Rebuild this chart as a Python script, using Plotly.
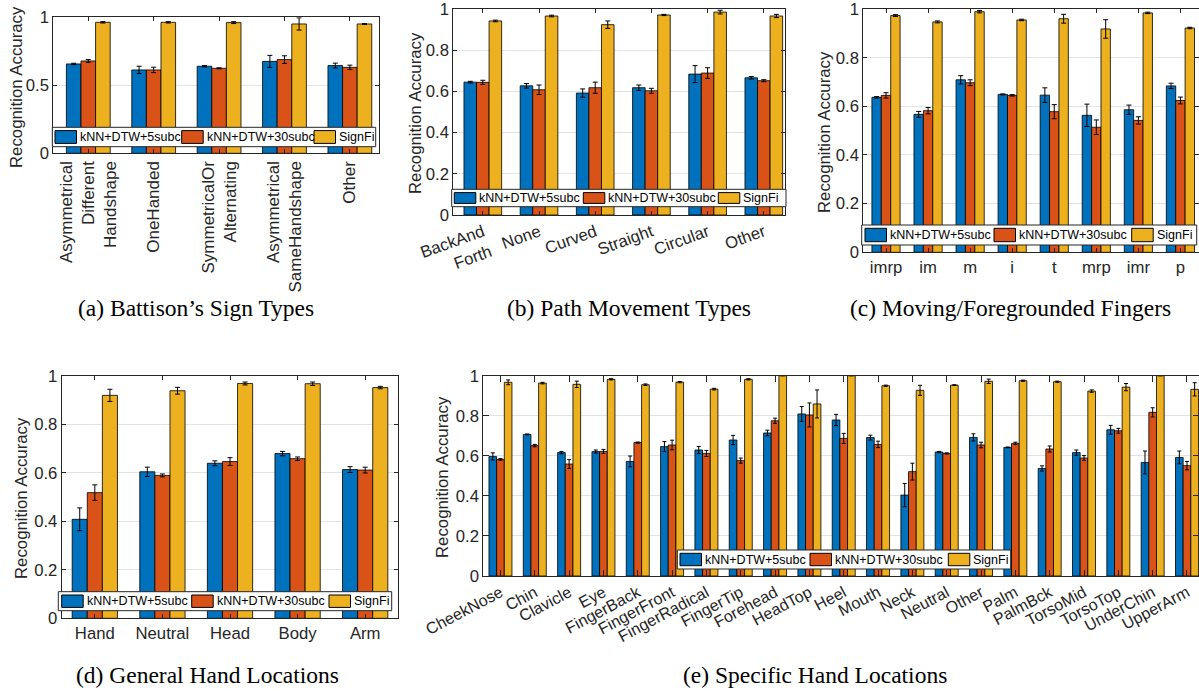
import plotly.graph_objects as go

W, H = 1199, 691

SERIES = ["kNN+DTW+5subc", "kNN+DTW+30subc", "SignFi"]
COLORS = ["#0072BD", "#D95319", "#EDB120"]

# (a) Battison's sign types
a_cats = ["AsymDiff", "OneHanded", "SymAlt", "AsymSame", "Other"]
a_ticks = ["Asymmetrical<br>Different<br>Handshape", "OneHanded",
           "SymmetricalOr<br>Alternating", "Asymmetrical<br>SameHandshape", "Other"]
a_knn5 = [0.657, 0.613, 0.640, 0.676, 0.645]
a_knn5_err = [0.005, 0.027, 0.005, 0.044, 0.018]
a_knn30 = [0.679, 0.613, 0.625, 0.689, 0.632]
a_knn30_err = [0.010, 0.020, 0.004, 0.028, 0.016]
a_signfi = [0.963, 0.963, 0.961, 0.951, 0.951]
a_signfi_err = [0.005, 0.005, 0.007, 0.045, 0.003]

# (b) path movement types
b_cats = ["BackAndForth", "None", "Curved", "Straight", "Circular", "Other"]
b_ticks = ["BackAnd<br>Forth", "None", "Curved", "Straight", "Circular", "Other"]
b_knn5 = [0.645, 0.627, 0.592, 0.618, 0.684, 0.666]
b_knn5_err = [0.004, 0.011, 0.020, 0.013, 0.041, 0.006]
b_knn30 = [0.644, 0.608, 0.618, 0.603, 0.689, 0.652]
b_knn30_err = [0.010, 0.023, 0.027, 0.012, 0.026, 0.005]
b_signfi = [0.942, 0.966, 0.924, 0.971, 0.985, 0.966]
b_signfi_err = [0.004, 0.004, 0.018, 0.003, 0.009, 0.008]

# (c) moving / foregrounded fingers
c_cats = ["imrp", "im", "m", "i", "t", "mrp", "imr", "p"]
c_knn5 = [0.637, 0.567, 0.709, 0.649, 0.646, 0.563, 0.586, 0.684]
c_knn5_err = [0.003, 0.012, 0.017, 0.002, 0.030, 0.046, 0.019, 0.011]
c_knn30 = [0.645, 0.582, 0.697, 0.645, 0.578, 0.514, 0.542, 0.624]
c_knn30_err = [0.011, 0.013, 0.012, 0.003, 0.029, 0.030, 0.015, 0.014]
c_signfi = [0.973, 0.947, 0.989, 0.955, 0.960, 0.918, 0.984, 0.922]
c_signfi_err = [0.004, 0.004, 0.005, 0.003, 0.018, 0.038, 0.003, 0.003]

# (d) general hand locations
d_cats = ["Hand", "Neutral", "Head", "Body", "Arm"]
d_knn5 = [0.408, 0.604, 0.639, 0.679, 0.613]
d_knn5_err = [0.047, 0.019, 0.010, 0.009, 0.012]
d_knn30 = [0.518, 0.589, 0.646, 0.658, 0.611]
d_knn30_err = [0.032, 0.006, 0.016, 0.007, 0.012]
d_signfi = [0.919, 0.938, 0.968, 0.967, 0.951]
d_signfi_err = [0.025, 0.014, 0.006, 0.007, 0.005]

# (e) specific hand locations
e_cats = ["CheekNose", "Chin", "Clavicle", "Eye", "FingerBack", "FingerFront",
          "FingerRadical", "FingerTip", "Forehead", "HeadTop", "Heel", "Mouth",
          "Neck", "Neutral", "Other", "Palm", "PalmBck", "TorsoMid", "TorsoTop",
          "UnderChin", "UpperArm"]
e_knn5 = [0.597, 0.707, 0.616, 0.621, 0.572, 0.646, 0.629, 0.679, 0.714, 0.809, 0.779,
          0.691, 0.404, 0.619, 0.692, 0.642, 0.537, 0.616, 0.730, 0.567, 0.592]
e_knn5_err = [0.018, 0.002, 0.006, 0.008, 0.027, 0.025, 0.018, 0.023, 0.014, 0.037, 0.028,
              0.012, 0.058, 0.003, 0.018, 0.002, 0.013, 0.013, 0.022, 0.057, 0.032]
e_knn30 = [0.582, 0.651, 0.559, 0.622, 0.666, 0.654, 0.612, 0.576, 0.775, 0.804, 0.687,
           0.657, 0.521, 0.612, 0.654, 0.662, 0.634, 0.589, 0.725, 0.817, 0.551]
e_knn30_err = [0.004, 0.006, 0.022, 0.010, 0.003, 0.024, 0.015, 0.013, 0.013, 0.060, 0.025,
               0.016, 0.042, 0.003, 0.014, 0.006, 0.015, 0.012, 0.012, 0.023, 0.021]
e_signfi = [0.967, 0.963, 0.957, 0.982, 0.955, 0.968, 0.933, 0.982, 1.000, 0.859, 1.000,
            0.950, 0.927, 0.953, 0.972, 0.975, 0.970, 0.923, 0.943, 1.000, 0.932]
e_signfi_err = [0.012, 0.004, 0.016, 0.003, 0.004, 0.003, 0.004, 0.003, 0.0, 0.070, 0.0,
                0.003, 0.025, 0.002, 0.011, 0.003, 0.003, 0.006, 0.018, 0.0, 0.033]

CAPTIONS = ["(a) Battison’s Sign Types", "(b) Path Movement Types",
            "(c) Moving/Foregrounded Fingers", "(d) General Hand Locations",
            "(e) Specific Hand Locations"]

TEXT = "#262626"
SANS = "Liberation Sans, Arial, Helvetica, sans-serif"
SERIF = "Liberation Serif, Times New Roman, serif"


def px_x(p):
    return p / W


def px_y(p):
    return 1 - p / H


# panel layout in pixel space: plot box, category range, tick setup, legend and label placement
panels = [
    dict(cats=a_cats, ticks=a_ticks, vals=[a_knn5, a_knn30, a_signfi],
         errs=[a_knn5_err, a_knn30_err, a_signfi_err],
         box=(53.3, 379.3, 17.3, 153.3), xr=[-0.535, 4.45], dtick=0.5, angle=-90,
         ticklen=4, capw=2.5, xfont=17,
         leg=(52.3, 375.7, 127.3, 146.7, [55.0, 181.7, 314.0]),
         ytitle=(17, 87), caption=(196, 308)),
    dict(cats=b_cats, ticks=b_ticks, vals=[b_knn5, b_knn30, b_signfi],
         errs=[b_knn5_err, b_knn30_err, b_signfi_err],
         box=(453.3, 785.0, 9.0, 215.0), xr=[-0.525, 5.377], dtick=0.2, angle=-20,
         ticklen=4, capw=2.5, xfont=16.7,
         leg=(451.7, 786.0, 189.3, 206.7, [454.3, 583.3, 718.3]),
         ytitle=(415, 113), caption=(629, 308)),
    dict(cats=c_cats, ticks=c_cats, vals=[c_knn5, c_knn30, c_signfi],
         errs=[c_knn5_err, c_knn30_err, c_signfi_err],
         box=(863.3, 1198.5, 9.0, 252.3), xr=[-0.54, 7.43], dtick=0.2, angle=0,
         ticklen=4, capw=2.5, xfont=16.7,
         leg=(861.7, 1196.7, 225.0, 245.0, [865.0, 994.0, 1131.7]),
         ytitle=(825, 132), caption=(1010, 308)),
    dict(cats=d_cats, ticks=d_cats, vals=[d_knn5, d_knn30, d_signfi],
         errs=[d_knn5_err, d_knn30_err, d_signfi_err],
         box=(61.7, 398.3, 375.7, 618.3), xr=[-0.49, 4.49], dtick=0.2, angle=0,
         ticklen=4, capw=2.5, xfont=16.7,
         leg=(58.3, 391.7, 591.7, 610.7, [61.7, 191.7, 329.0]),
         ytitle=(21, 498), caption=(207, 675)),
    dict(cats=e_cats, ticks=e_cats, vals=[e_knn5, e_knn30, e_signfi],
         errs=[e_knn5_err, e_knn30_err, e_signfi_err],
         box=(483.3, 1199.0, 375.7, 576.0), xr=[-0.5, 20.35], dtick=0.2, angle=-28,
         ticklen=6, capw=2, xfont=16.2,
         leg=(677.3, 1010.7, 550.0, 569.0, [680.0, 810.0, 948.3]),
         ytitle=(442.5, 477.5), caption=(815, 675)),
]

fig = go.Figure()
shapes = []
annotations = []

for i, p in enumerate(panels, start=1):
    xa = "x" if i == 1 else f"x{i}"
    ya = "y" if i == 1 else f"y{i}"
    for name, color, vals, errs in zip(SERIES, COLORS, p["vals"], p["errs"]):
        fig.add_trace(go.Bar(
            x=p["cats"], y=vals, name=name, xaxis=xa, yaxis=ya,
            marker=dict(color=color, line=dict(color="rgba(0,0,0,0.8)", width=1)),
            error_y=dict(type="data", array=errs, color="black", thickness=1,
                         width=p["capw"]),
            showlegend=False,
        ))

    x0, x1, top, bottom = p["box"]
    axis_common = dict(showline=True, linecolor=TEXT, linewidth=1, mirror="allticks",
                       ticks="inside", ticklen=p["ticklen"], tickcolor=TEXT,
                       automargin=False, ticklabeloverflow="allow")
    fig.layout[f"xaxis{'' if i == 1 else i}"] = dict(
        domain=[px_x(x0), px_x(x1)], anchor=ya, type="category",
        range=p["xr"], tickmode="array", tickvals=p["cats"], ticktext=p["ticks"],
        tickangle=p["angle"], showgrid=False,
        tickfont=dict(family=SANS, size=p["xfont"], color=TEXT), **axis_common)
    fig.layout[f"yaxis{'' if i == 1 else i}"] = dict(
        domain=[px_y(bottom), px_y(top)], anchor=xa, range=[0, 1],
        dtick=p["dtick"], tick0=0, showgrid=True, gridcolor="#e3e3e3", gridwidth=1,
        zeroline=False, tickfont=dict(family=SANS, size=16.7, color=TEXT),
        **axis_common)

    # in-axes legend box
    lx0, lx1, ly0, ly1, sw = p["leg"]
    shapes.append(dict(type="rect", xref="paper", yref="paper", layer="above",
                       x0=px_x(lx0), x1=px_x(lx1), y0=px_y(ly1), y1=px_y(ly0),
                       fillcolor="white", line=dict(color=TEXT, width=1)))
    for sx, name, color in zip(sw, SERIES, COLORS):
        shapes.append(dict(type="rect", xref="paper", yref="paper", layer="above",
                           x0=px_x(sx), x1=px_x(sx + 21.5),
                           y0=px_y(ly1 - 3.3), y1=px_y(ly0 + 3.3),
                           fillcolor=color, line=dict(color="black", width=1)))
        annotations.append(dict(text=name, xref="paper", yref="paper",
                                x=px_x(sx + 23.0), y=px_y((ly0 + ly1) / 2),
                                xanchor="left", yanchor="middle", showarrow=False,
                                font=dict(family=SANS, size=12.5, color="black")))

    tx, ty = p["ytitle"]
    annotations.append(dict(text="Recognition Accuracy", xref="paper", yref="paper",
                            x=px_x(tx), y=px_y(ty), xanchor="center", yanchor="middle",
                            textangle=-90, showarrow=False,
                            font=dict(family=SANS, size=16.8, color=TEXT)))
    cx, cy = p["caption"]
    annotations.append(dict(text=CAPTIONS[i - 1], xref="paper", yref="paper",
                            x=px_x(cx), y=px_y(cy), xanchor="center", yanchor="middle",
                            showarrow=False,
                            font=dict(family=SERIF, size=23.5, color="black")))

fig.update_layout(
    width=W, height=H, margin=dict(l=0, r=0, t=0, b=0, pad=0, autoexpand=False),
    paper_bgcolor="white", plot_bgcolor="white",
    barmode="group", bargap=0.33, bargroupgap=0.0,
    shapes=shapes, annotations=annotations, showlegend=False,
)

fig.write_html("out.html")
